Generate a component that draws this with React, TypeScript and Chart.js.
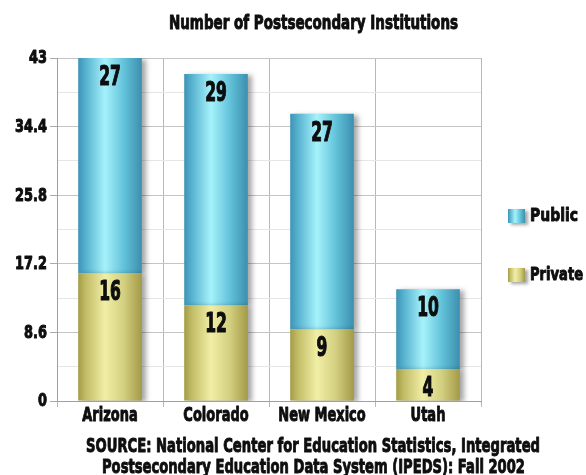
import React, { useEffect, useRef } from "react";
import { Chart, registerables } from "chart.js";

Chart.register(...registerables);

const categories = ["Arizona", "Colorado", "New Mexico", "Utah"];
const publicValues = [27, 29, 27, 10];
const privateValues = [16, 12, 9, 4];
const yTickValues = [0, 4.3, 8.6, 12.9, 17.2, 21.5, 25.8, 30.1, 34.4, 38.7, 43];
const yTickLabels = ["0", "", "8.6", "", "17.2", "", "25.8", "", "34.4", "", "43"];
const titleText = "Number of Postsecondary Institutions";
const sourceLines = [
  "SOURCE: National Center for Education Statistics, Integrated",
  "Postsecondary Education Data System (IPEDS): Fall 2002",
];

const FONT = "'DejaVu Sans', 'Noto Sans', sans-serif";
const INK = "#0e0e0e";
const BAR_PCT = 0.6;

const PUBLIC_STOPS: [number, string][] = [
  [0, "#3e93b4"],
  [0.12, "#56b2cf"],
  [0.42, "#a6f2fb"],
  [0.72, "#62c2da"],
  [1, "#3b8fae"],
];
const PRIVATE_STOPS: [number, string][] = [
  [0, "#a39c47"],
  [0.12, "#c2bc66"],
  [0.42, "#f1efa6"],
  [0.72, "#d3cf80"],
  [1, "#a29a46"],
];

function makeGradient(ctx: CanvasRenderingContext2D, x0: number, x1: number, stops: [number, string][]) {
  const g = ctx.createLinearGradient(x0, 0, x1, 0);
  stops.forEach(([o, c]) => g.addColorStop(o, c));
  return g;
}

function barFill(stops: [number, string][], fallback: string) {
  return (c: any) => {
    const chart = c.chart;
    const xs = chart.scales && chart.scales.x;
    if (!xs || !chart.chartArea || c.dataIndex === undefined) return fallback;
    const cx = xs.getPixelForValue(c.dataIndex);
    const half = (chart.chartArea.width / categories.length) * BAR_PCT / 2;
    return makeGradient(chart.ctx, cx - half, cx + half, stops);
  };
}

// draw horizontally condensed, heavy bold text (Impact-like look)
function condensedText(
  ctx: CanvasRenderingContext2D,
  text: string,
  x: number,
  y: number,
  size: number,
  opts: { sx?: number; width?: number; align?: CanvasTextAlign; stroke?: number }
) {
  ctx.save();
  ctx.font = `bold ${size}px ${FONT}`;
  ctx.textBaseline = "middle";
  ctx.textAlign = opts.align || "center";
  let sx = opts.sx || 0.7;
  if (opts.width) {
    const w = ctx.measureText(text).width;
    if (w > 0) sx = opts.width / w;
  }
  ctx.translate(x, y);
  ctx.scale(sx, 1);
  ctx.fillStyle = INK;
  ctx.strokeStyle = INK;
  ctx.lineJoin = "round";
  ctx.lineWidth = opts.stroke === undefined ? 1 : opts.stroke;
  ctx.fillText(text, 0, 0);
  if (ctx.lineWidth > 0) ctx.strokeText(text, 0, 0);
  ctx.restore();
}

const decorPlugin = {
  id: "decor",
  beforeDatasetsDraw(chart: any) {
    const ctx = chart.ctx;
    ctx.save();
    ctx.shadowColor = "rgba(0,0,0,0.35)";
    ctx.shadowOffsetX = 4;
    ctx.shadowOffsetY = 1;
    ctx.shadowBlur = 5;
  },
  afterDatasetsDraw(chart: any) {
    const ctx = chart.ctx;
    ctx.restore();
    ctx.save();
    chart.data.datasets.forEach((ds: any, di: number) => {
      const meta = chart.getDatasetMeta(di);
      meta.data.forEach((bar: any, i: number) => {
        const top = Math.min(bar.y, bar.base);
        condensedText(ctx, String(ds.data[i]), bar.x, top + 20, 26, { sx: 0.6, stroke: 1.2 });
      });
    });
    ctx.restore();
  },
  afterDraw(chart: any) {
    const ctx = chart.ctx;
    const xs = chart.scales.x;
    const ys = chart.scales.y;
    ctx.save();

    // axis tick labels, placed through the scales
    yTickValues.forEach((v, i) => {
      const lbl = yTickLabels[i];
      if (!lbl) return;
      condensedText(ctx, lbl, xs.left - 10, ys.getPixelForValue(v) + 1, 17, { sx: 0.76 , align: "right" });
    });
    categories.forEach((c, i) => {
      condensedText(ctx, c, xs.getPixelForValue(i), 416, 20, { sx: 0.65 });
    });

    condensedText(ctx, titleText, 313.5, 24, 19, { width: 289 });
    condensedText(ctx, sourceLines[0], 313, 447, 20, { width: 454 });
    condensedText(ctx, sourceLines[1], 313.5, 468, 20, { width: 423 });

    // legend (Public first, then Private)
    const items = [
      { label: chart.data.datasets[1].label, stops: PUBLIC_STOPS, y: 216, w: 48 },
      { label: chart.data.datasets[0].label, stops: PRIVATE_STOPS, y: 275, w: 53 },
    ];
    items.forEach((it) => {
      ctx.save();
      ctx.shadowColor = "rgba(0,0,0,0.35)";
      ctx.shadowOffsetX = 3;
      ctx.shadowOffsetY = 2;
      ctx.shadowBlur = 3;
      ctx.fillStyle = makeGradient(ctx, 508, 525, it.stops);
      ctx.fillRect(508, it.y - 7, 17, 14);
      ctx.restore();
      condensedText(ctx, it.label, 530, it.y, 18, { width: it.w, align: "left" });
    });
    ctx.restore();
  },
};

export default function App() {
  const ref = useRef<HTMLCanvasElement | null>(null);

  useEffect(() => {
    if (!ref.current) return;
    const chart = new Chart(ref.current, {
      type: "bar",
      data: {
        labels: categories,
        datasets: [
          {
            label: "Private",
            data: privateValues,
            backgroundColor: barFill(PRIVATE_STOPS, "#d6d27f"),
            barPercentage: BAR_PCT,
            categoryPercentage: 1,
          },
          {
            label: "Public",
            data: publicValues,
            backgroundColor: barFill(PUBLIC_STOPS, "#6cc8dc"),
            barPercentage: BAR_PCT,
            categoryPercentage: 1,
          },
        ],
      },
      options: {
        animation: false,
        responsive: true,
        maintainAspectRatio: false,
        layout: { padding: { top: 58, right: 105, bottom: 0, left: 0 } },
        plugins: {
          legend: { display: false },
          title: { display: false },
          tooltip: { enabled: false },
        },
        scales: {
          x: {
            stacked: true,
            grid: {
              offset: true,
              color: "#b8b8b8",
              tickLength: 6,
              tickColor: "#b8b8b8",
            },
            border: { color: "#a0a0a0" },
            ticks: { display: false },
            afterFit: (s: any) => {
              s.height = 74;
            },
          },
          y: {
            stacked: true,
            min: 0,
            max: 43,
            afterBuildTicks: (s: any) => {
              s.ticks = yTickValues.map((v) => ({ value: v }));
            },
            afterFit: (s: any) => {
              s.width = 57;
            },
            grid: {
              color: (c: any) => (c.index % 2 === 0 ? "#c4c4c4" : "#e6e6e6"),
              tickColor: (c: any) => (c.index % 2 === 0 ? "#a8a8a8" : "rgba(0,0,0,0)"),
              tickLength: 7,
            },
            border: { color: "#a0a0a0" },
            ticks: { display: false },
          },
        },
      },
      plugins: [decorPlugin],
    });
    return () => chart.destroy();
  }, []);

  return (
    <div style={{ position: "absolute", left: 0, top: 0, width: 586, height: 475, background: "#fff" }}>
      <canvas ref={ref} />
    </div>
  );
}
